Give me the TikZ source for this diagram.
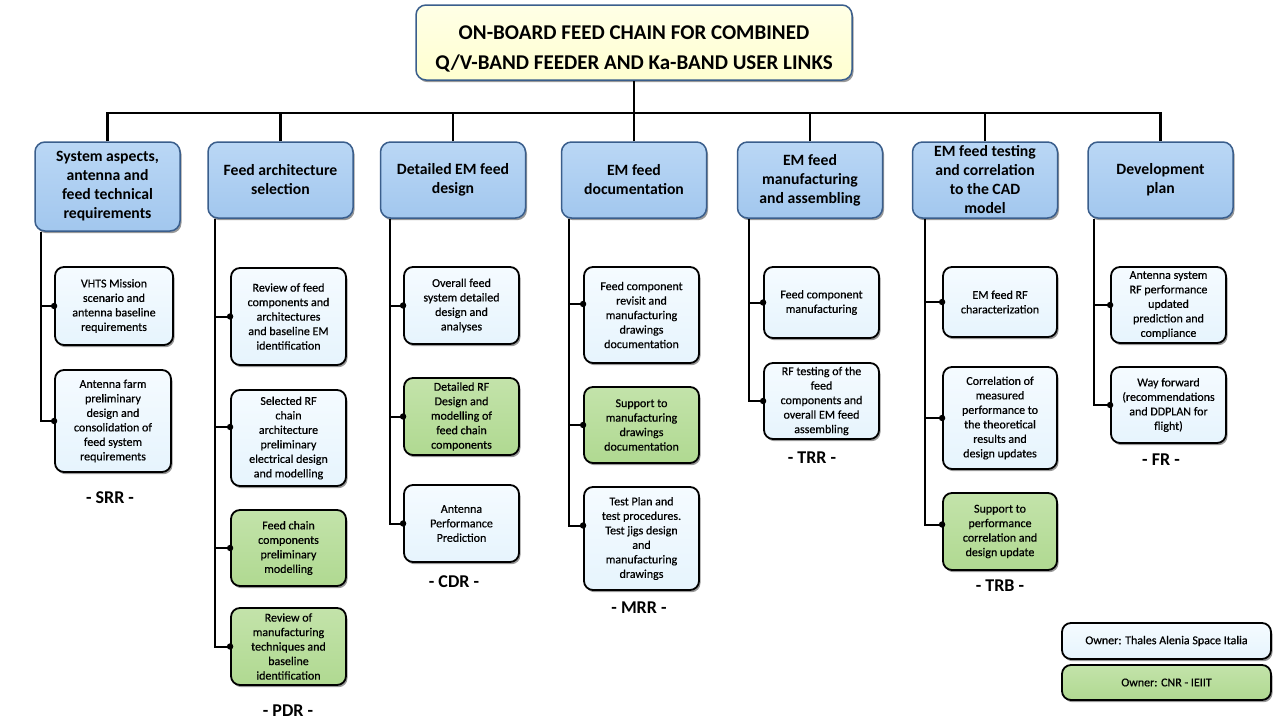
\documentclass[tikz,border=0pt]{standalone}
\usepackage{fontspec}
\setmainfont{Carlito}
\newfontfamily\childfont{Carlito}[FakeBold=0.5]
\usetikzlibrary{shadows}
\definecolor{hdrtop}{HTML}{BAD7F5}
\definecolor{hdrfill}{HTML}{A2C7EE}
\definecolor{hdrline}{HTML}{3A5E8C}
\definecolor{ttlfill}{HTML}{FFFFD0}
\definecolor{ttltop}{HTML}{FFFFE6}
\definecolor{ltfill}{HTML}{E6F4FD}
\definecolor{lttop}{HTML}{F5FBFF}
\definecolor{grfill}{HTML}{B0D991}
\definecolor{grtop}{HTML}{C3E3AA}
\tikzset{
  shd/.style={drop shadow={shadow xshift=1.5pt, shadow yshift=-2.2pt, opacity=0.4, fill=black}},
  ttl/.style={draw=hdrline, line width=1.5pt, rounded corners=10pt, top color=ttltop, bottom color=ttlfill, shd,
    minimum width=436pt, minimum height=75pt, align=center, inner sep=1pt,
    font=\fontsize{21}{30}\selectfont\bfseries},
  hdr/.style={draw=hdrline, line width=1.5pt, rounded corners=10pt, top color=hdrtop, bottom color=hdrfill, shd,
    minimum width=145pt, minimum height=76pt, align=center, inner sep=1pt,
    font=\fontsize{15.7}{19}\selectfont\bfseries},
  lt/.style={draw=black, line width=1.8pt, rounded corners=9pt, top color=lttop, bottom color=ltfill, shd,
    minimum width=115pt, align=center, inner sep=1pt,
    font=\fontsize{12}{14.5}\selectfont\childfont},
  gr/.style={draw=black, line width=1.8pt, rounded corners=9pt, top color=grtop, bottom color=grfill, shd,
    minimum width=115pt, align=center, inner sep=1pt,
    font=\fontsize{12}{14.5}\selectfont\childfont},
  rev/.style={font=\fontsize{18}{22}\selectfont\bfseries, inner sep=1pt},
  link/.style={line width=2.2pt, draw=black},
  sub/.style={line width=2pt, draw=black},
  dotc/.style={fill=black}
}
\begin{document}
\begin{tikzpicture}[x=1pt,y=-1pt]
\useasboundingbox[fill=white] (0,0) rectangle (1280,720);

% title
\node[ttl] (title) at (634,42.5) {\rule{0pt}{27pt}ON-BOARD FEED CHAIN FOR COMBINED\\Q/V-BAND FEEDER AND Ka-BAND USER LINKS};

% headers
\node[hdr, minimum height=89pt] (h1) at (107.5,186.5) {System aspects,\\antenna and\\feed technical\\requirements};
\node[hdr] (h2) at (280.5,180) {Feed architecture\\selection};
\node[hdr] (h3) at (453,180) {Detailed EM feed\\design};
\node[hdr] (h4) at (634,180) {EM feed\\documentation};
\node[hdr] (h5) at (810,180) {EM feed\\manufacturing\\and assembling};
\node[hdr] (h6) at (985,180) {EM feed testing\\and correlation\\to the CAD\\model};
\node[hdr] (h7) at (1160.5,180) {Development\\plan};

% trunk
\coordinate (bar) at (634,113);
\draw[link] (title.south) -- (bar);
\draw[link] (h1.north) -- (h1.north |- bar) -- (h7.north |- bar) -- (h7.north);
\foreach \h in {h2,h3,h4,h5,h6} \draw[link] (\h.north) -- (\h.north |- bar);

% column 1
\node[lt, minimum width=118pt, minimum height=78pt] (c1a) at (114,306) {VHTS Mission\\scenario and\\antenna baseline\\requirements};
\node[lt, minimum width=116pt, minimum height=102pt] (c1b) at (113,421) {Antenna farm\\preliminary\\design and\\consolidation of\\feed system\\requirements};
\node[rev] (srr) at (110,498) {- SRR -};

% column 2
\node[lt, minimum height=97pt] (c2a) at (288.5,316.5) {Review of feed\\components and\\architectures\\and baseline EM\\identification};
\node[lt, minimum height=96pt] (c2b) at (288.5,438) {Selected RF\\chain\\architecture\\preliminary\\electrical design\\and modelling};
\node[gr, minimum height=76pt] (c2c) at (288.5,548) {Feed chain\\components\\preliminary\\modelling};
\node[gr, minimum height=77pt] (c2d) at (288.5,646.5) {Review of\\manufacturing\\techniques and\\baseline\\identification};
\node[rev] (pdr) at (288,711) {- PDR -};

% column 3
\node[lt, minimum height=77pt] (c3a) at (461.5,305.5) {Overall feed\\system detailed\\design and\\analyses};
\node[gr, minimum height=77pt] (c3b) at (461.5,416.5) {Detailed RF\\Design and\\modelling of\\feed chain\\components};
\node[lt, minimum height=77pt] (c3c) at (461.5,523.5) {Antenna\\Performance\\Prediction};
\node[rev] (cdr) at (454,582) {- CDR -};

% column 4
\node[lt, minimum height=96pt] (c4a) at (641.5,315) {Feed component\\revisit and\\manufacturing\\drawings\\documentation};
\node[gr, minimum height=76pt] (c4b) at (641.5,425) {Support to\\manufacturing\\drawings\\documentation};
\node[lt, minimum height=103pt] (c4c) at (641.5,538.5) {Test Plan and\\test procedures.\\Test jigs design\\and\\manufacturing\\drawings};
\node[rev] (mrr) at (639,608) {- MRR -};

% column 5
\node[lt, minimum height=71pt] (c5a) at (821.5,302.5) {Feed component\\manufacturing};
\node[lt, minimum height=76pt] (c5b) at (821.5,401) {RF testing of the\\feed\\components and\\overall EM feed\\assembling};
\node[rev] (trr) at (812,458) {- TRR -};

% column 6
\node[lt, minimum width=114pt, minimum height=70pt] (c6a) at (1000,302) {EM feed RF\\characterization};
\node[lt, minimum width=114pt, minimum height=102pt] (c6b) at (1000,418) {Correlation of\\measured\\performance to\\the theoretical\\results and\\design updates};
\node[gr, minimum width=114pt, minimum height=77pt] (c6c) at (1000,531.5) {Support to\\performance\\correlation and\\design update};
\node[rev] (trb) at (1000,586) {- TRB -};

% column 7
\node[lt, minimum height=76pt] (c7a) at (1168.5,305) {Antenna system\\RF performance\\updated\\prediction and\\compliance};
\node[lt, minimum height=76pt] (c7b) at (1168.5,405) {Way forward\\(recommendations\\and DDPLAN for\\flight)};
\node[rev] (fr) at (1161,460) {- FR -};

% legend
\node[lt, minimum width=209pt, minimum height=36pt] (own1) at (1166.5,641) {Owner: Thales Alenia Space Italia};
\node[gr, minimum width=209pt, minimum height=35pt] (own2) at (1166.5,682.5) {Owner: CNR - IEIIT};

% spines
\coordinate (s1) at (41,0);
\coordinate (s2) at (215,0);
\coordinate (s3) at (390,0);
\coordinate (s4) at (569,0);
\coordinate (s5) at (749,0);
\coordinate (s6) at (925,0);
\coordinate (s7) at (1094,0);

\coordinate (p1a) at (c1a.west);
\coordinate (p1b) at (c1b.west);
\coordinate (p2a) at (c2a.west);
\coordinate (p2b) at ([yshift=11pt]c2b.west);
\coordinate (p2c) at (c2c.west);
\coordinate (p2d) at (c2d.west);
\coordinate (p3a) at (c3a.west);
\coordinate (p3b) at (c3b.west);
\coordinate (p3c) at (c3c.west);
\coordinate (p4a) at ([yshift=11pt]c4a.west);
\coordinate (p4b) at (c4b.west);
\coordinate (p4c) at ([yshift=13pt]c4c.west);
\coordinate (p5a) at (c5a.west);
\coordinate (p5b) at (c5b.west);
\coordinate (p6a) at (c6a.west);
\coordinate (p6b) at (c6b.west);
\coordinate (p6c) at ([yshift=7pt]c6c.west);
\coordinate (p7a) at (c7a.west);
\coordinate (p7b) at (c7b.west);

\foreach \s/\h/\list in {s1/h1/{p1a,p1b}, s2/h2/{p2a,p2b,p2c,p2d}, s3/h3/{p3a,p3b,p3c}, s4/h4/{p4a,p4b,p4c}, s5/h5/{p5a,p5b}, s6/h6/{p6a,p6b,p6c}, s7/h7/{p7a,p7b}}{
  \foreach \p in \list {
    \draw[sub] (\s |- \h.south) |- (\p);
    \fill[dotc] (\p) circle (3.2pt);
  }
}
\end{tikzpicture}
\end{document}
